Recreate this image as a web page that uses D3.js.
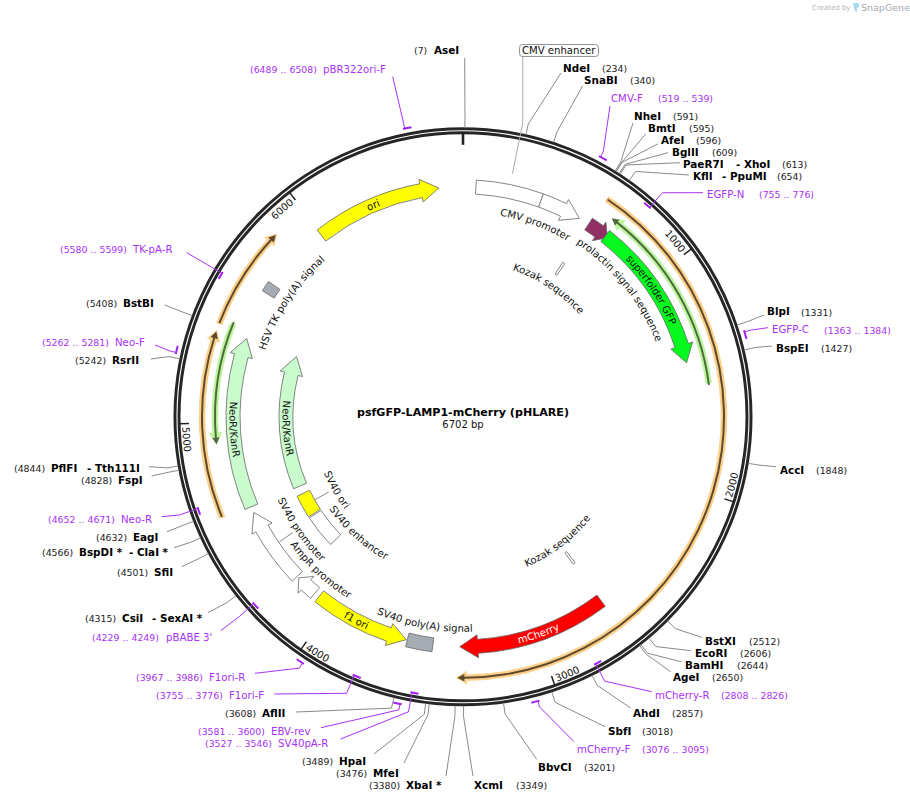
<!DOCTYPE html>
<html lang="en">
<head>
  <meta charset="UTF-8">
  <title>psfGFP-LAMP1-mCherry (pHLARE)</title>
  <script src="https://d3js.org/d3.v7.min.js"></script>
  <style>
    body { margin: 0; background: #fff; font-family: 'DejaVu Sans', sans-serif; }
    svg { display: block; }
    .enz { font-size: 10.4px; font-weight: bold; fill: #000; }
    .num { font-size: 9.4px; fill: #222; }
    .pname { font-size: 10.2px; fill: #a832f5; }
    .pnum { font-size: 9.4px; fill: #a832f5; }
    .lbl { font-size: 10.1px; fill: #111; }
    .tick { font-size: 10px; fill: #111; }
    .leader { fill: none; stroke: #8a8a8a; stroke-width: 1; }
    .pleader { fill: none; stroke: #a832f5; stroke-width: 1; }
  </style>
</head>
<body>
<svg width="910" height="802"></svg>
<script>
const plasmidName = "psfGFP-LAMP1-mCherry (pHLARE)";
const plasmidLength = 6702;
const tickSites = [1000, 2000, 3000, 4000, 5000, 6000];

// name, site
const enzymes = [
  ["AseI", 7], ["NdeI", 234], ["SnaBI", 340], ["NheI", 591], ["BmtI", 595], ["AfeI", 596],
  ["BglII", 609], ["PaeR7I", 613, "XhoI"], ["KflI", 654, "PpuMI"], ["BlpI", 1331], ["BspEI", 1427],
  ["AccI", 1848], ["BstXI", 2512], ["EcoRI", 2606], ["BamHI", 2644], ["AgeI", 2650], ["AhdI", 2857],
  ["SbfI", 3018], ["BbvCI", 3201], ["XcmI", 3349], ["XbaI *", 3380], ["MfeI", 3476], ["HpaI", 3489],
  ["AflII", 3608], ["CsiI", 4315, "SexAI *"], ["SfiI", 4501], ["BspDI *", 4566, "ClaI *"], ["EagI", 4632],
  ["FspI", 4828], ["PflFI", 4844, "Tth111I"], ["RsrII", 5242], ["BstBI", 5408]
];

// name, start, end, strand
const primers = [
  ["pBR322ori-F", 6489, 6508, 1], ["CMV-F", 519, 539, 1], ["EGFP-N", 755, 776, -1], ["EGFP-C", 1363, 1384, 1],
  ["mCherry-R", 2808, 2826, -1], ["mCherry-F", 3076, 3095, 1], ["pBABE 3'", 4229, 4249, -1], ["F1ori-R", 3967, 3986, 1],
  ["F1ori-F", 3755, 3776, -1], ["EBV-rev", 3581, 3600, 1], ["SV40pA-R", 3527, 3546, -1], ["Neo-R", 4652, 4671, -1],
  ["Neo-F", 5262, 5281, 1], ["TK-pA-R", 5580, 5599, -1]
];

// name, start, end, direction (0 = no arrow), kind
const features = [
  ["CMV enhancer", 60, 369, 0, "plain"], ["CMV promoter", 369, 566, 1, "plain"],
  ["prolactin signal sequence", 616, 724, 1, "signal"], ["superfolder GFP", 711, 1423, 1, "gfp"],
  ["mCherry", 2664, 3366, 1, "cherry"], ["SV40 poly(A) signal", 3491, 3612, 0, "polya"],
  ["f1 ori", 3617, 4071, -1, "rep"], ["AmpR promoter", 4096, 4199, 1, "plain"],
  ["SV40 promoter", 4209, 4569, 1, "plain"], ["NeoR/KanR", 4598, 5397, 1, "neo"],
  ["HSV TK poly(A) signal", 5625, 5675, 0, "polya"], ["ori", 5995, 6590, 1, "rep"]
];
const innerFeatures = [
  ["Kozak sequence", 611, 625, 0, "plain"], ["Kozak sequence", 2652, 2666, 0, "plain"],
  ["SV40 enhancer", 4208, 4405, 0, "plain"], ["SV40 ori", 4413, 4550, 0, "rep"], ["NeoR/KanR", 4598, 5397, 1, "neo"]
];

// translated ORFs: start, end, direction, kind
const orfs = [
  [622, 3380, 1, "orange"], [4603, 5388, 1, "orange"], [5414, 5855, 1, "orange"],
  [690, 1532, -1, "lime"], [4911, 5438, -1, "lime"]
];

const featureFill = { plain: "#fff", signal: "#923066", gfp: "#06f91e", cherry: "#ff0000", polya: "#a5acb4", rep: "#ffff00", neo: "#c9fbcd" };
const orfStyle = { orange: ["#fdd08a", "#5e4a2c"], lime: ["#bdf59e", "#4e6b3c"] };

// where the labels sit on the page: name x, second name x, number x, mid y, end of leader
const enzymeSpots = {
  AseI: [434, 0, 414, 50, 464.7, 58], NdeI: [563, 0, 602, 68, 561, 73], SnaBI: [584, 0, 630, 80, 582.7, 85.7],
  NheI: [634, 0, 673, 116, 633, 123], BmtI: [648, 0, 689, 128, 645.7, 134], AfeI: [661, 0, 696, 140, 657.7, 144],
  BglII: [672, 0, 712, 152, 668, 152.7], PaeR7I: [683, 736, 782, 164, 680, 162.7], KflI: [693, 722, 777, 176, 689, 175],
  BlpI: [767, 0, 801, 311.5, 764, 315], BspEI: [776, 0, 821, 348, 772, 346], AccI: [780, 0, 816, 470, 776, 466.7],
  BstXI: [705, 0, 749, 641, 701.7, 637.3], EcoRI: [695, 0, 740, 653, 690.7, 650.7], BamHI: [685, 0, 737, 665, 681, 661.7],
  AgeI: [673, 0, 712, 677, 670.7, 671.7], AhdI: [633, 0, 672, 713, 630.7, 708], SbfI: [608, 0, 642, 731, 605, 726.7],
  BbvCI: [538, 0, 584, 767, 536.7, 759.3], XcmI: [474, 0, 516, 785, 473, 776], "XbaI *": [406, 0, 369, 785, 446, 776],
  MfeI: [373, 0, 336, 773, 404, 763], HpaI: [339, 0, 302, 761, 374, 754], AflII: [262, 0, 225, 713, 296, 712],
  CsiI: [122, 152, 85, 618, 208, 612.7], SfiI: [154, 0, 117, 572, 181.7, 566.7], "BspDI *": [79, 129, 42, 552, 174, 547.7],
  EagI: [133, 0, 96, 537, 167, 531.7], FspI: [118, 0, 81, 480, 151.7, 476], PflFI: [51, 87, 14, 468, 149, 466.7],
  RsrII: [112, 0, 75, 360, 150.7, 359], BstBI: [123, 0, 86, 303, 164.7, 305]
};
const primerSpots = {
  "pBR322ori-F": [323, 250, 69, 392.7, 76.7], "CMV-F": [611, 658, 98, 610, 106], "EGFP-N": [707, 759, 194, 703, 192.7],
  "EGFP-C": [772, 824, 329.5, 768, 327.7], "mCherry-R": [655, 721, 695, 651.7, 691.7], "mCherry-F": [577, 642, 749, 574, 741.7],
  "pBABE 3'": [166, 92, 637, 220.7, 630.7], "F1ori-R": [209, 136, 677, 255, 673.3], "F1ori-F": [229, 156, 695, 274.3, 694],
  "EBV-rev": [271, 198, 731, 321, 727.7], "SV40pA-R": [278, 205, 743, 340.7, 739], "Neo-R": [121, 48, 519, 161.7, 516.7],
  "Neo-F": [115, 42, 342, 155, 345], "TK-pA-R": [133, 60, 249, 186.7, 252.7]
};
// label text, bp at text centre, baseline radius
const featureLabels = [
  ["CMV promoter", 383, 204.5, "#111"], ["prolactin signal sequence", 950, 207, "#111"], ["Kozak sequence", 628, 155, "#111"],
  ["Kozak sequence", 2658, 163, "#111"], ["superfolder GFP", 1043, 226.5, "#111"], ["ori", 6274, 226.5, "#111"],
  ["mCherry", 2994, 233.5, "#fff"], ["f1 ori", 3865, 233.5, "#111"], ["SV40 poly(A) signal", 3547, 215, "#111"],
  ["AmpR promoter", 4149, 215, "#111"], ["SV40 promoter", 4379, 203, "#111"], ["SV40 ori", 4468, 150, "#111"],
  ["SV40 enhancer", 4133, 162.5, "#111"], ["NeoR/KanR", 4968, 233.5, "#111"], ["NeoR/KanR", 4957, 180.5, "#111"],
  ["HSV TK poly(A) signal", 5652, 208.5, "#111"]
];

const cx = 463, cy = 416.8, ringR = 286;
const trackMid = 230, trackInner = 177, trackOrange = 261, trackLime = 248;
const bpAngle = d3.scaleLinear().domain([0, plasmidLength]).range([0, 2 * Math.PI]);
const svg = d3.select("svg");

function polar(bp, r) {
  const a = bpAngle(bp);
  return [cx + r * Math.sin(a), cy - r * Math.cos(a)];
}
function arcOf(start, end, r) {
  const p = d3.path();
  p.arc(cx, cy, r, bpAngle(start) - Math.PI / 2, bpAngle(end) - Math.PI / 2, end < start);
  return p.toString();
}
// ring segment, with an arrow head when dir is not 0
function shape(start, end, r, w, dir, hw, hl) {
  const tail = dir < 0 ? end : start, tip = dir < 0 ? start : end, s = dir < 0 ? -1 : 1;
  const ang = b => bpAngle(b) - Math.PI / 2;
  const p = d3.path();
  const base = dir === 0 ? tip : tip - s * (hl / r) / (2 * Math.PI) * plasmidLength;
  p.moveTo(...polar(tail, r + w / 2));
  p.arc(cx, cy, r + w / 2, ang(tail), ang(base), s < 0);
  if (dir !== 0) {
    p.lineTo(...polar(base, r + hw / 2));
    p.lineTo(...polar(tip, r));
    p.lineTo(...polar(base, r - hw / 2));
  }
  p.lineTo(...polar(base, r - w / 2));
  p.arc(cx, cy, r - w / 2, ang(base), ang(tail), s > 0);
  p.closePath();
  return p.toString();
}

// main ring
svg.append("circle").attr("cx", cx).attr("cy", cy).attr("r", ringR)
  .attr("fill", "none").attr("stroke", "#262626").attr("stroke-width", 7);
svg.append("circle").attr("cx", cx).attr("cy", cy).attr("r", ringR)
  .attr("fill", "none").attr("stroke", "#fff").attr("stroke-width", 1.1);

// ticks
const zero = [polar(0, 284), polar(0, 272)];
svg.append("line").attr("x1", zero[0][0]).attr("y1", zero[0][1]).attr("x2", zero[1][0]).attr("y2", zero[1][1])
  .attr("stroke", "#222").attr("stroke-width", 2.6);
svg.selectAll(".tk").data(tickSites).enter().append("line").attr("class", "tk")
  .attr("x1", d => polar(d, 284)[0]).attr("y1", d => polar(d, 284)[1])
  .attr("x2", d => polar(d, 274)[0]).attr("y2", d => polar(d, 274)[1])
  .attr("stroke", "#222").attr("stroke-width", 1.5);

const defs = svg.append("defs");
let pathId = 0;
function curved(text, bp, r, cls, color, anchor) {
  const a = bpAngle(bp) * 180 / Math.PI;
  const flip = a > 90 && a < 272;
  const span = plasmidLength * 0.2;
  let d, offset = "50%", ta = "middle";
  if (anchor === "end") {
    // text lies before the site, reading up to it or away from it
    d = flip ? arcOf(bp, bp - span, r) : arcOf(bp - span, bp, r);
    offset = flip ? "0%" : "100%";
    ta = flip ? "start" : "end";
  } else {
    d = flip ? arcOf(bp + span, bp - span, r) : arcOf(bp - span, bp + span, r);
  }
  const id = "tp" + (pathId++);
  defs.append("path").attr("id", id).attr("d", d);
  svg.append("text").attr("class", cls).style("fill", color)
    .append("textPath").attr("href", "#" + id).attr("startOffset", offset)
    .attr("text-anchor", ta).text(text);
}
tickSites.forEach(t => {
  const a = bpAngle(t) * 180 / Math.PI;
  const flip = a > 90 && a < 272;
  curved(String(t), t - 12, flip ? 281 : 272, "tick", "#111", "end");
});

// ORF tracks
orfs.forEach(([s, e, dir, kind]) => {
  const r = kind === "orange" ? trackOrange : trackLime;
  svg.append("path").attr("d", shape(s, e, r, 6.5, dir, 14, 11)).attr("fill", orfStyle[kind][0]);
  svg.append("path").attr("d", shape(s + dir * 4, e - dir * 6, r, 2, dir, 7.5, 7)).attr("fill", orfStyle[kind][1]);
});

// features
function drawFeatures(list, r) {
  list.forEach(([name, s, e, dir, kind]) => {
    const arc = (e - s) / plasmidLength * 2 * Math.PI * r;
    svg.append("path").attr("d", shape(s, e, r, 14, dir, 23, Math.min(18, arc * 0.45)))
      .attr("fill", featureFill[kind]).attr("stroke", "#666").attr("stroke-width", 0.8)
      .attr("stroke-linejoin", "miter");
  });
}
drawFeatures(features, trackMid);
drawFeatures(innerFeatures, trackInner);

// short leaders from features to their labels
[[4482, 170, 154], [4389, 222, 206]].forEach(([bp, r0, r1]) => {
  svg.append("path").attr("class", "leader").attr("d", d3.line()([polar(bp, r0), polar(bp, r1)]));
});

featureLabels.forEach(([t, bp, r, color]) => curved(t, bp, r, "lbl", color));

// CMV enhancer boxed label
svg.append("path").attr("class", "leader").style("stroke", "#aaa")
  .attr("d", d3.line()([polar(214, 248), polar(214, 300), [polar(214, 300)[0], 56]]));
svg.append("rect").attr("x", 519.5).attr("y", 44.5).attr("width", 79).attr("height", 12).attr("rx", 3)
  .attr("fill", "#fff").attr("stroke", "#888").attr("stroke-width", 0.9);
svg.append("text").attr("class", "lbl").attr("x", 522).attr("y", 54).text("CMV enhancer");

// enzyme sites
enzymes.forEach(([name, site, name2]) => {
  const [nx, n2x, numx, y, ex, ey] = enzymeSpots[name];
  svg.append("path").attr("class", "leader")
    .attr("d", d3.line()([polar(site, 289), polar(site, 300), [ex, ey]]));
  svg.append("text").attr("class", "enz").attr("x", nx).attr("y", y + 3.5).text(name);
  if (name2) svg.append("text").attr("class", "enz").attr("x", n2x).attr("y", y + 3.5).text("- " + name2);
  svg.append("text").attr("class", "num").attr("x", numx).attr("y", y + 4).text("(" + site + ")");
});

// primers: the leader meets the mark at its 5' side
primers.forEach(([name, s, e, strand]) => {
  const [nx, rx, y, ex, ey] = primerSpots[name];
  const r = strand > 0 ? 294 : 280.5;
  const foot = strand > 0 ? s : e;
  svg.append("path").attr("class", "pleader")
    .attr("d", d3.line()([polar(foot, r), polar(foot, 300), [ex, ey]]));
  svg.append("path").attr("d", arcOf(s - 6, e + 6, r)).attr("fill", "none").attr("stroke", "#a020f0").attr("stroke-width", 2);
  svg.append("text").attr("class", "pname").attr("x", nx).attr("y", y + 3.5).text(name);
  svg.append("text").attr("class", "pnum").attr("x", rx).attr("y", y + 4).text("(" + s + " .. " + e + ")");
});

// title
svg.append("text").attr("x", cx).attr("y", 416).attr("text-anchor", "middle")
  .attr("font-size", 11.1).attr("font-weight", "bold").attr("fill", "#000").text(plasmidName);
svg.append("text").attr("x", cx).attr("y", 428).attr("text-anchor", "middle")
  .attr("font-size", 10).attr("fill", "#111").text(plasmidLength + " bp");

// watermark
svg.append("text").attr("x", 812).attr("y", 10).attr("font-size", 7).attr("fill", "#b5b5b5").text("Created by");
svg.append("path").attr("d", "M853 3h3c3 0 4 2 3 4l-2 1v4l-2 -1l-1 -3z").attr("fill", "#a9d8f2");
svg.append("text").attr("x", 861).attr("y", 11).attr("font-size", 9.5).attr("fill", "#a3a9b0").text("SnapGene");
</script>
</body>
</html>
